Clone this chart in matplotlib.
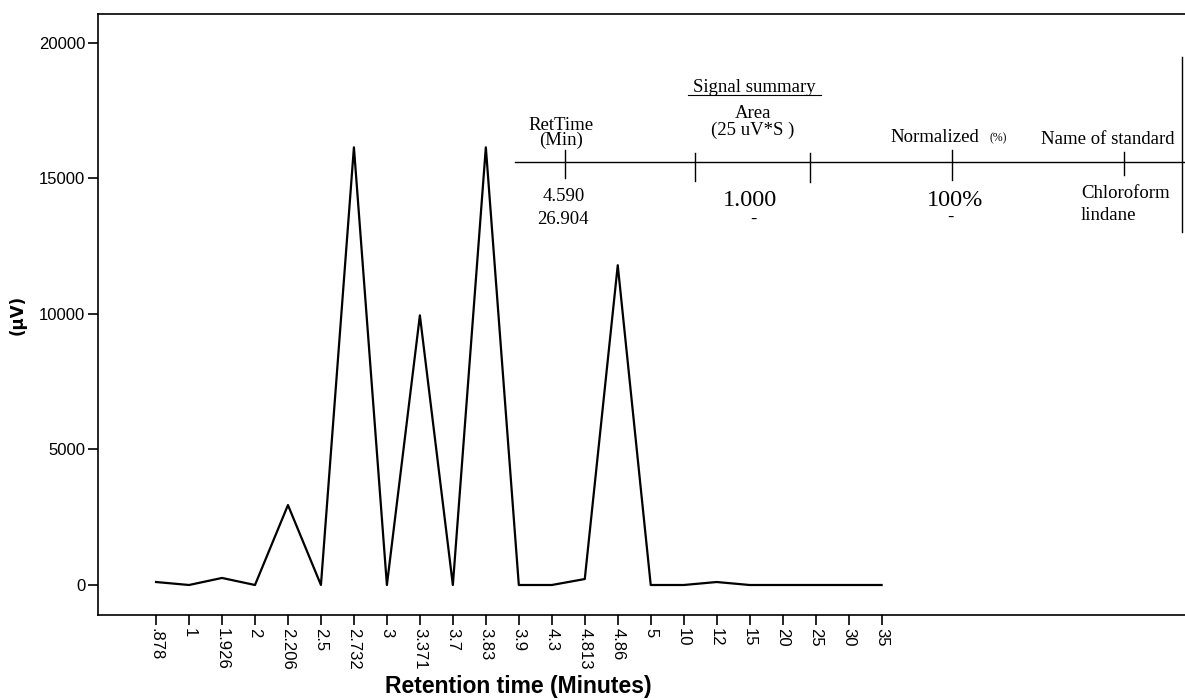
import matplotlib
matplotlib.use('Agg')
import matplotlib.pyplot as plt
from matplotlib.lines import Line2D

# retention times (categorical axis) and detector signal
ret_times = ['.878', '1', '1.926', '2', '2.206', '2.5', '2.732', '3', '3.371', '3.7',
             '3.83', '3.9', '4.3', '4.813', '4.86', '5', '10', '12', '15', '20',
             '25', '30', '35']
signal_uv = [110, 0, 260, 0, 2950, 0, 16150, 0, 9950, 0,
             16150, 0, 0, 220, 11800, 0, 0, 110, 0, 0,
             0, 0, 0]
y_ticks = [0, 5000, 10000, 15000, 20000]

# signal summary table
table_title = 'Signal summary'
col_heads = ['RetTime\n(Min)', 'Area\n(25 uV*S )', 'Normalized', 'Name of standard']
ret_col = ['4.590', '26.904']
area_col = ['1.000', '-']
norm_col = ['100%', '-']
name_col = ['Chloroform', 'lindane']

W, H = 1185, 700
fig = plt.figure(figsize=(W / 100, H / 100), dpi=100)
ax = fig.add_axes([98 / W, 85 / H, 1 - 98 / W, (615 - 14) / H])

x = list(range(len(ret_times)))
ax.plot(x, signal_uv, color='black', linewidth=1.6)
ax.set_xlim(-1.76, 31.2)
ax.set_ylim(-1107, 21070)
ax.set_xticks(x)
ax.set_xticklabels(ret_times, rotation=-90, fontsize=12, family='Liberation Sans')
ax.set_yticks(y_ticks)
ax.set_yticklabels([str(v) for v in y_ticks], fontsize=12, family='Liberation Sans')
ax.tick_params(direction='out', length=7, width=1.2, pad=2)
for s in ['left', 'bottom', 'top']:
    ax.spines[s].set_linewidth(1.2)
ax.spines['right'].set_visible(False)
ax.set_xlabel('Retention time (Minutes)', fontsize=16.5, fontweight='bold',
              family='Liberation Sans', va='center')
ax.xaxis.set_label_coords((518 - 98) / (W - 98), -(687 - 615) / 601)
ax.set_ylabel('(μV)', fontsize=12, fontweight='bold', family='DejaVu Sans', va='center')
ax.yaxis.set_label_coords(-(98 - 18) / (W - 98), (615 - 315) / 601)


def px(xp, yp):
    return xp / W, 1 - yp / H


def txt(xp, yp, s, size=13.5, ha='center', **kw):
    fig.text(*px(xp, yp), s, fontsize=size, ha=ha, va='center',
             family='Liberation Serif', **kw)


def seg(x0, y0, x1, y1, lw=1.0):
    a, b = px(x0, y0)
    c, d = px(x1, y1)
    fig.add_artist(Line2D([a, c], [b, d], color='black', linewidth=lw,
                          transform=fig.transFigure))


# table
txt(754, 87, table_title, size=13.5)
seg(688, 95, 821, 95, 0.8)
txt(561, 133, col_heads[0], linespacing=0.85)
txt(753, 122, col_heads[1], linespacing=0.95)
txt(935, 138, col_heads[2])
txt(998, 138, '(%)', size=8.5)
txt(1108, 139, col_heads[3])

seg(515, 162, 1185, 162)
for xt, y0, y1 in [(565, 150, 178), (695, 153, 181), (810, 153, 182),
                   (952, 150, 180), (1124, 152, 175)]:
    seg(xt, y0, xt, y1)
seg(1182, 57, 1182, 232)

txt(564, 197, ret_col[0])
txt(563, 219, ret_col[1])
txt(750, 200, area_col[0], size=17.5)
txt(753, 219, area_col[1])
txt(955, 200, norm_col[0], size=17.5)
txt(950, 217, norm_col[1])
txt(1081, 194, name_col[0], ha='left')
txt(1081, 216, name_col[1], ha='left')

fig.savefig('out.png', dpi=100)
